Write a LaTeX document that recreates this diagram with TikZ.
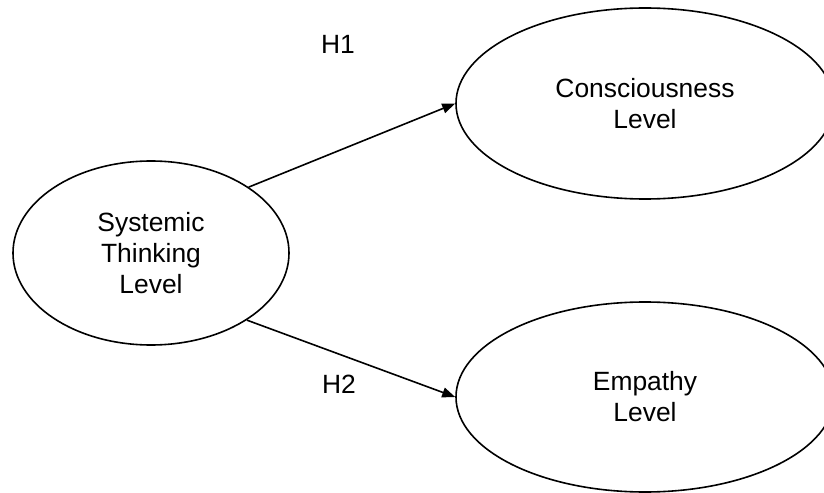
\documentclass[tikz,border=0pt]{standalone}
\usepackage{fontspec}
\setmainfont{Liberation Sans}
\usepackage{tikz}
\usetikzlibrary{shapes.geometric, arrows.meta, positioning}

\begin{document}
\begin{tikzpicture}[x=1bp, y=-1bp, >={Triangle[length=13bp, width=10bp]},
    font=\fontsize{26.4bp}{31bp}\selectfont,
    level/.style={ellipse, draw, line width=1.6bp, inner sep=0pt, align=center},
    link/.style={->, line width=1.6bp}]
    \useasboundingbox (0,0) rectangle (824,493);
    % Constructs
    \node[level, minimum width=276bp, minimum height=184bp] (sys) at (151,253) {Systemic\\Thinking\\Level};
    \node[level, minimum width=378bp, minimum height=191bp] (con) at (645,103.5) {Consciousness\\Level};
    \node[level, minimum width=378bp, minimum height=190bp] (emp) at (645,397) {Empathy\\Level};
    % Hypotheses
    \draw[link] (sys.34) -- (con.west);
    \draw[link] (sys.-35) -- (emp.west);
    \node (h1) at (338,44) {H1};
    \node (h2) at (339,384) {H2};
\end{tikzpicture}
\end{document}
